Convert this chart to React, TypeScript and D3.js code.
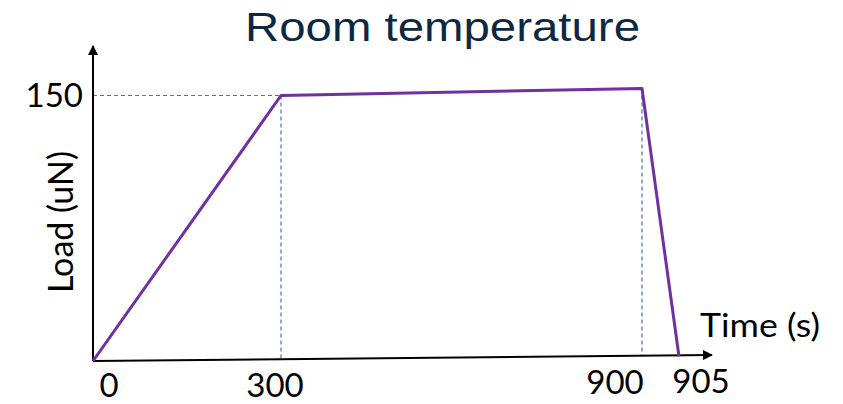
import React from "react";
import * as d3 from "d3";

// schematic load profile (room temperature test)
const timePoints = [0, 300, 900, 905];
const loadValues = [0, 150, 154, 2.5];
const xTickLabels = ["0", "300", "900", "905"];
const yTickValues = [150];
const title = "Room temperature";
const xTitle = "Time (s)";
const yTitle = "Load (uN)";

const W = 843;
const H = 404;

export default function App() {
  // piecewise time axis, as in the hand-drawn original
  const x = d3.scaleLinear().domain(timePoints).range([93, 281, 642, 679]);
  const y = d3.scaleLinear().domain([0, 150]).range([361, 95.5]);

  const pts = timePoints.map((t, i) => [x(t), y(loadValues[i])] as [number, number]);
  const line = d3.line();

  // x axis is slightly tilted upward in the reference
  const axisStart: [number, number] = [x(0), y(0)];
  const axisEnd: [number, number] = [712, y(0) - 6];
  const axisY = (px: number) =>
    axisStart[1] + ((px - axisStart[0]) * (axisEnd[1] - axisStart[1])) / (axisEnd[0] - axisStart[0]);

  const labelDx = [16, -6, -27, 22];
  const font = "Lato, 'Open Sans', sans-serif";
  const purple = "#7030A0";
  const dashBlue = "#4472C4";

  return (
    <svg width={W} height={H} style={{ position: "absolute", left: 0, top: 0, background: "#fff" }}>
      <defs>
        <marker id="arr" viewBox="0 0 10 10" refX="9" refY="5" markerWidth="5" markerHeight="5" orient="auto">
          <path d="M0,0 L10,5 L0,10 z" fill="#000" />
        </marker>
      </defs>

      <text
        x={245}
        y={41}
        textLength={395}
        lengthAdjust="spacingAndGlyphs"
        fontFamily="'Liberation Sans', Arial, sans-serif"
        fontSize={40}
        fill="#0E2841"
      >
        {title}
      </text>

      {/* guide lines */}
      <g stroke={dashBlue} strokeWidth={1.2} strokeDasharray="4,3" fill="none">
        <line x1={x(0)} x2={pts[1][0]} y1={y(150)} y2={y(150)} />
        <line x1={pts[1][0]} x2={pts[1][0]} y1={pts[1][1]} y2={axisY(pts[1][0])} />
        <line x1={pts[2][0]} x2={pts[2][0]} y1={pts[2][1]} y2={axisY(pts[2][0])} />
      </g>

      {/* axes */}
      <line x1={x(0)} y1={y(0)} x2={x(0)} y2={46} stroke="#000" strokeWidth={2} markerEnd="url(#arr)" />
      <line x1={axisStart[0]} y1={axisStart[1]} x2={axisEnd[0]} y2={axisEnd[1]} stroke="#000" strokeWidth={2} markerEnd="url(#arr)" />

      <path d={line(pts) || ""} fill="none" stroke={purple} strokeWidth={3} strokeLinejoin="round" />

      {yTickValues.map((v) => (
        <text key={v} x={x(0) - 10} y={y(v)} dy="0.36em" textAnchor="end" fontFamily={font} fontSize={33} fill="#000">
          {v}
        </text>
      ))}

      {timePoints.map((t, i) => (
        <text key={t} x={x(t) + labelDx[i]} y={Math.min(axisY(x(t)) + 38, 397)} textAnchor="middle" fontFamily={font} fontSize={33} fill="#000">
          {xTickLabels[i]}
        </text>
      ))}

      <text x={700} y={337} textLength={120} lengthAdjust="spacingAndGlyphs" fontFamily={font} fontSize={33} fill="#000">
        {xTitle}
      </text>
      <text transform={`translate(73,222) rotate(-90)`} textAnchor="middle" fontFamily={font} fontSize={34} fill="#000">
        {yTitle}
      </text>
    </svg>
  );
}
